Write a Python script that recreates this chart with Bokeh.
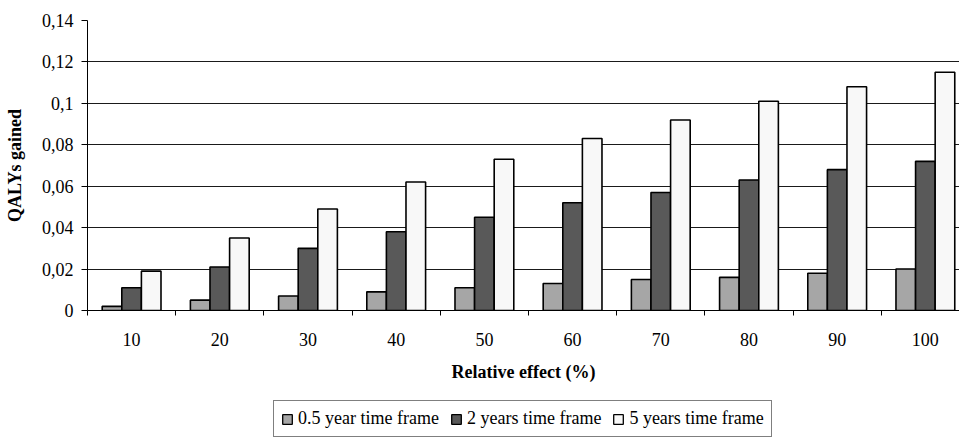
import numpy as np
from bokeh.plotting import figure
from bokeh.layouts import column
from bokeh.models import Range1d, FixedTicker, Legend, LegendItem
from bokeh.embed import file_html
from bokeh.resources import INLINE

categories = ["10", "20", "30", "40", "50", "60", "70", "80", "90", "100"]
half_year = [0.002, 0.005, 0.007, 0.009, 0.011, 0.013, 0.015, 0.016, 0.018, 0.020]
two_years = [0.011, 0.021, 0.030, 0.038, 0.045, 0.052, 0.057, 0.063, 0.068, 0.072]
five_years = [0.019, 0.035, 0.049, 0.062, 0.073, 0.083, 0.092, 0.101, 0.108, 0.115]
series_labels = ["0.5 year time frame", "2 years time frame", "5 years time frame"]
y_ticks = [0, 0.02, 0.04, 0.06, 0.08, 0.1, 0.12, 0.14]
y_tick_labels = ["0", "0,02", "0,04", "0,06", "0,08", "0,1", "0,12", "0,14"]

FONT = "Liberation Serif"
colors = ["#A6A6A6", "#595959", "#F8F8F8"]
series = [half_year, two_years, five_years]

n = len(categories)
centers = np.arange(n) + 0.5
bw = 1 / 4.5

p = figure(width=959, height=400, output_backend="svg", toolbar_location=None,
           x_range=Range1d(0, 9.887), y_range=Range1d(0, 0.14),
           min_border_left=87, min_border_right=0, min_border_top=20,
           min_border_bottom=90)
p.outline_line_color = None
p.background_fill_color = "white"
p.border_fill_color = "white"

for k, vals in enumerate(series):
    p.vbar(x=centers + (k - 1) * bw, top=vals, width=bw, bottom=0,
           fill_color=colors[k], line_color="black", line_width=1.6)

# x axis
xa = p.xaxis[0]
xa.ticker = FixedTicker(ticks=list(centers), minor_ticks=list(np.arange(0, n + 1)))
xa.major_label_overrides = {float(c): lab for c, lab in zip(centers, categories)}
xa.major_tick_out = 0
xa.major_tick_in = 0
xa.minor_tick_out = 5
xa.minor_tick_in = 0
xa.minor_tick_line_color = "black"
xa.axis_line_color = "black"
xa.major_label_text_font = FONT
xa.major_label_text_font_size = "18px"
xa.major_label_text_color = "black"
xa.major_label_standoff = 17
xa.axis_label = "Relative effect (%)"
xa.axis_label_text_font = FONT
xa.axis_label_text_font_size = "18px"
xa.axis_label_text_font_style = "bold"
xa.axis_label_text_color = "black"
xa.axis_label_standoff = 13

# y axis
ya = p.yaxis[0]
yt = FixedTicker(ticks=y_ticks, minor_ticks=[])
ya.ticker = yt
ya.major_label_overrides = {float(t): lab for t, lab in zip(y_ticks, y_tick_labels)}
ya.major_tick_out = 6
ya.major_tick_in = 0
ya.minor_tick_out = 0
ya.minor_tick_in = 0
ya.axis_line_color = "black"
ya.major_tick_line_color = "black"
ya.major_label_text_font = FONT
ya.major_label_text_font_size = "18px"
ya.major_label_text_color = "black"
ya.major_label_standoff = 8
ya.axis_label = "QALYs gained"
ya.axis_label_text_font = FONT
ya.axis_label_text_font_size = "18px"
ya.axis_label_text_font_style = "bold"
ya.axis_label_text_color = "black"
ya.axis_label_standoff = 14

p.xgrid.visible = False
p.ygrid.ticker = yt
p.ygrid.grid_line_color = "#1a1a1a"
p.ygrid.grid_line_width = 1

# legend strip below the chart (its own bar renderers are hidden)
lf = figure(width=959, height=37, output_backend="svg", toolbar_location=None,
            x_range=Range1d(0, 9.887), y_range=Range1d(0, 0.14),
            x_axis_location=None, y_axis_location=None,
            min_border_left=87, min_border_right=0, min_border_top=0, min_border_bottom=0)
lf.outline_line_color = None
lf.xgrid.visible = False
lf.ygrid.visible = False
lf.border_fill_color = "white"
lf.background_fill_color = "white"
items = []
for k, vals in enumerate(series):
    r = lf.vbar(x=centers + (k - 1) * bw, top=vals, width=bw, bottom=0,
                fill_color=colors[k], line_color="black", line_width=1.3)
    r.visible = False
    items.append(LegendItem(label=series_labels[k], renderers=[r]))

legend = Legend(items=items, orientation="horizontal", location=(186, 0))
legend.border_line_color = "black"
legend.border_line_width = 1
legend.background_fill_color = "white"
legend.background_fill_alpha = 1
legend.inactive_fill_alpha = 0
legend.label_text_font = FONT
legend.label_text_font_size = "18px"
legend.label_text_color = "black"
legend.label_height = 16
legend.padding = 7
legend.spacing = 11
legend.label_standoff = 5
legend.glyph_width = 12
legend.glyph_height = 12
legend.margin = 0
lf.add_layout(legend)

layout = column(p, lf, spacing=0)
open("out.html", "w").write(file_html(layout, INLINE))
